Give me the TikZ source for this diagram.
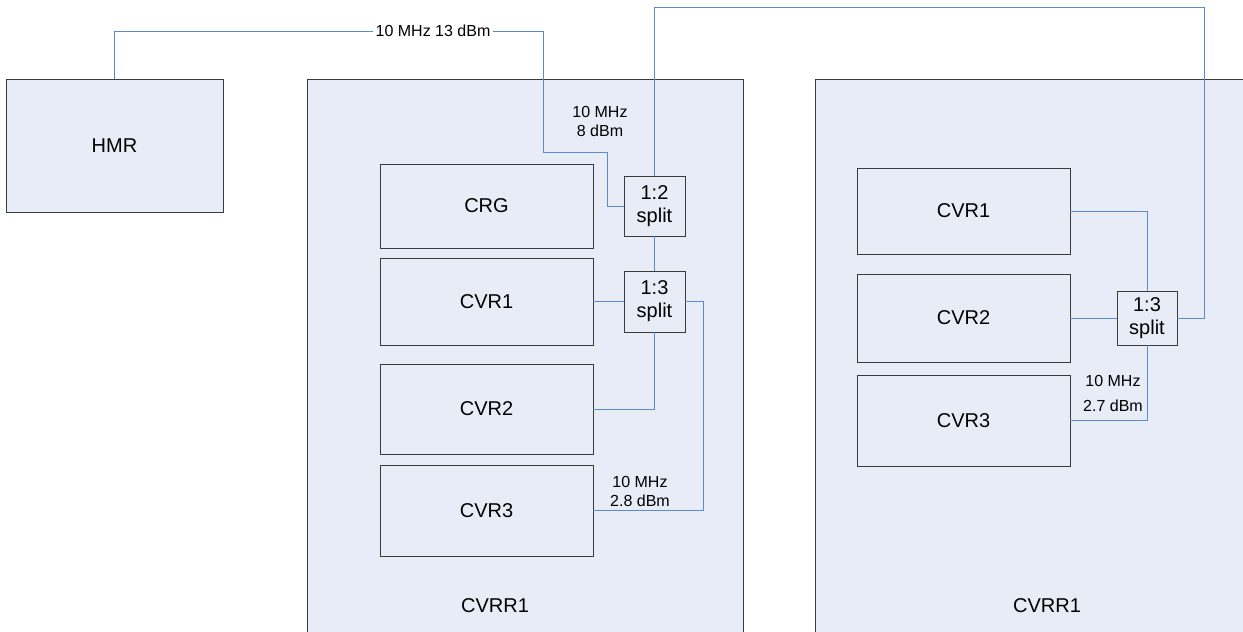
\documentclass[tikz,border=0pt]{standalone}
\usepackage{fontspec}
\setmainfont{Liberation Sans}
\definecolor{bgblue}{HTML}{E7ECF6}
\definecolor{wireblue}{HTML}{5A8AD0}
\definecolor{boxgray}{HTML}{3A3A3A}
\begin{document}
\begin{tikzpicture}[x=1pt,y=-1pt,
  box/.style={draw=boxgray,fill=bgblue,line width=0.9pt,inner sep=0pt},
  big/.style={font=\fontsize{20}{24}\selectfont},
  small/.style={font=\fontsize{16}{19}\selectfont},
  wire/.style={draw=wireblue,line width=0.9pt},
  lbl/.style={small,align=center,inner sep=1pt}]
\clip (0,0) rectangle (1243,632);
\fill[white] (0,0) rectangle (1243,632);
% containers
\node[box,big,minimum width=217pt,minimum height=133pt] (hmr) at (114.5,145.5) {HMR};
\node[box,minimum width=436pt,minimum height=570pt] (rackL) at (525,364) {};
\node[box,minimum width=440pt,minimum height=570pt] (rackR) at (1035,364) {};
\node[big] (rackLlbl) at (495,606) {CVRR1};
\node[big] (rackRlbl) at (1047,606) {CVRR1};
% left inner boxes
\node[box,big,minimum width=213pt,minimum height=84pt] (crg) at (486.5,206) {CRG};
\node[box,big,minimum width=213pt,minimum height=87pt] (lcvr1) at (486.5,301.5) {CVR1};
\node[box,big,minimum width=213pt,minimum height=90pt] (lcvr2) at (486.5,409) {CVR2};
\node[box,big,minimum width=213pt,minimum height=91pt] (lcvr3) at (486.5,510.5) {CVR3};
\node[box,big,align=center,minimum width=61pt,minimum height=60pt,font=\fontsize{20}{23}\selectfont] (s1) at (654.5,206) {1:2\\split};
\node[box,big,align=center,minimum width=61pt,minimum height=61pt,font=\fontsize{20}{23}\selectfont] (s2) at (654.5,301.5) {1:3\\split};
% right inner boxes
\node[box,big,minimum width=213pt,minimum height=86pt] (rcvr1) at (963.5,211) {CVR1};
\node[box,big,minimum width=213pt,minimum height=88pt] (rcvr2) at (963.5,318) {CVR2};
\node[box,big,minimum width=213pt,minimum height=91pt] (rcvr3) at (963.5,420.5) {CVR3};
\node[box,big,align=center,minimum width=60pt,minimum height=54pt,font=\fontsize{20}{23}\selectfont] (s3) at (1147,318) {1:3\\split};
% labels
\node[small,inner sep=2pt] (toplbl) at (433,31) {10 MHz 13 dBm};
\node[lbl] (l8) at (600,121.5) {10 MHz\\8 dBm};
\node[lbl] (l28) at (640,491) {10 MHz\\2.8 dBm};
\node[lbl,font=\fontsize{16}{25}\selectfont] (l27) at (1113,393.5) {10 MHz\\2.7 dBm};
% coordinates
\coordinate (c1) at (543,152);
\coordinate (c2) at (607,152);
\coordinate (c3) at (703,301.5);
\coordinate (t1) at (1204,7);
% wires
\draw[wire] (hmr.north) |- (toplbl.west);
\draw[wire] (toplbl.east) -| (c1) -- (c2) |- (s1.west);
\draw[wire] (s1.north) |- (t1) |- (s3.east);
\draw[wire] (s1.south) -- (s2.north);
\draw[wire] (s2.west) -- (lcvr1.east);
\draw[wire] (s2.south) |- (lcvr2.east);
\draw[wire] (s2.east) -- (c3) |- (lcvr3.east);
\draw[wire] (rcvr1.east) -| (s3.north);
\draw[wire] (rcvr2.east) -- (s3.west);
\draw[wire] (s3.south) |- (rcvr3.east);
\end{tikzpicture}
\end{document}
